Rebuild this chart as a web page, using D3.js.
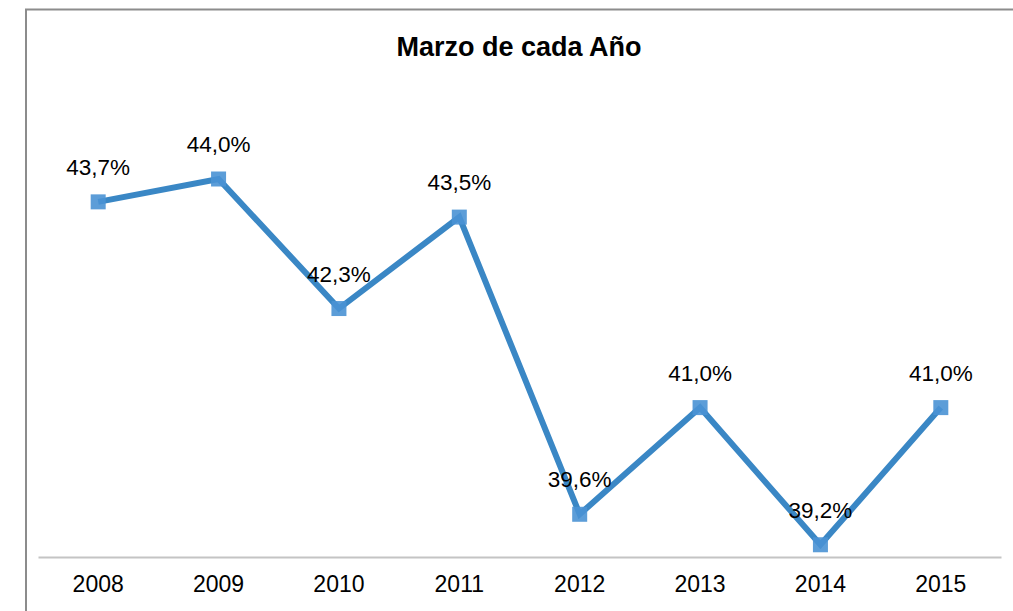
<!DOCTYPE html>
<html>
<head>
<meta charset="utf-8">
<script src="https://cdn.jsdelivr.net/npm/d3@7"></script>
<style>
  body { margin: 0; background: #fff; }
  text { font-family: "Liberation Sans", Arial, sans-serif; fill: #000; }
</style>
</head>
<body>
<div id="root"></div>
<script>
const WIDTH = 1013
const HEIGHT = 611

const years = ['2008', '2009', '2010', '2011', '2012', '2013', '2014', '2015']
const values = [43.7, 44.0, 42.3, 43.5, 39.6, 41.0, 39.2, 41.0]
const valueLabels = ['43,7%', '44,0%', '42,3%', '43,5%', '39,6%', '41,0%', '39,2%', '41,0%']
const title = 'Marzo de cada Año'

const data = years.map((y, i) => ({ year: y, value: values[i], label: valueLabels[i] }))

const svg = d3.select('#root')
  .append('svg')
  .attr('width', WIDTH)
  .attr('height', HEIGHT)

// chart frame (clipped by window on right/bottom)
svg.append('rect')
  .attr('x', 26)
  .attr('y', 9.5)
  .attr('width', 1100)
  .attr('height', 700)
  .attr('fill', 'none')
  .attr('stroke', '#8c8c8c')
  .attr('stroke-width', 2)

const xScale = d3.scaleBand()
  .domain(years)
  .range([38, 1001])

const yScale = d3.scaleLinear()
  .domain([39, 44])
  .range([560, 179])

const xAxis = d3.axisBottom(xScale).tickSize(0).tickPadding(19)

const axisG = svg.append('g')
  .attr('transform', `translate(0, 557)`)
  .call(xAxis)

axisG.select('.domain')
  .attr('stroke', '#c4c4c4')
  .attr('stroke-width', 2)

axisG.selectAll('text')
  .style('font-size', '23px')
  .style('font-family', '"Liberation Sans", Arial, sans-serif')
  .attr('fill', '#000')

svg.append('text')
  .attr('x', 519)
  .attr('y', 56)
  .attr('text-anchor', 'middle')
  .style('font-size', '27px')
  .style('font-weight', 'bold')
  .text(title)

const cx = d => xScale(d.year) + xScale.bandwidth() / 2

const line = d3.line()
  .x(cx)
  .y(d => yScale(d.value))

svg.append('path')
  .datum(data)
  .attr('d', line)
  .attr('fill', 'none')
  .attr('stroke', '#3a87c5')
  .attr('stroke-width', 6)
  .attr('stroke-linejoin', 'miter')

const MARK = 15
svg.selectAll('rect.mark')
  .data(data)
  .enter()
  .append('rect')
  .attr('class', 'mark')
  .attr('x', d => cx(d) - MARK / 2)
  .attr('y', d => yScale(d.value) - MARK / 2)
  .attr('width', MARK)
  .attr('height', MARK)
  .attr('fill', '#4a92d4')
  .attr('opacity', 0.9)

svg.selectAll('text.lbl')
  .data(data)
  .enter()
  .append('text')
  .attr('class', 'lbl')
  .attr('x', cx)
  .attr('y', d => yScale(d.value) - 27)
  .attr('text-anchor', 'middle')
  .style('font-size', '22.5px')
  .text(d => d.label)
</script>
</body>
</html>
